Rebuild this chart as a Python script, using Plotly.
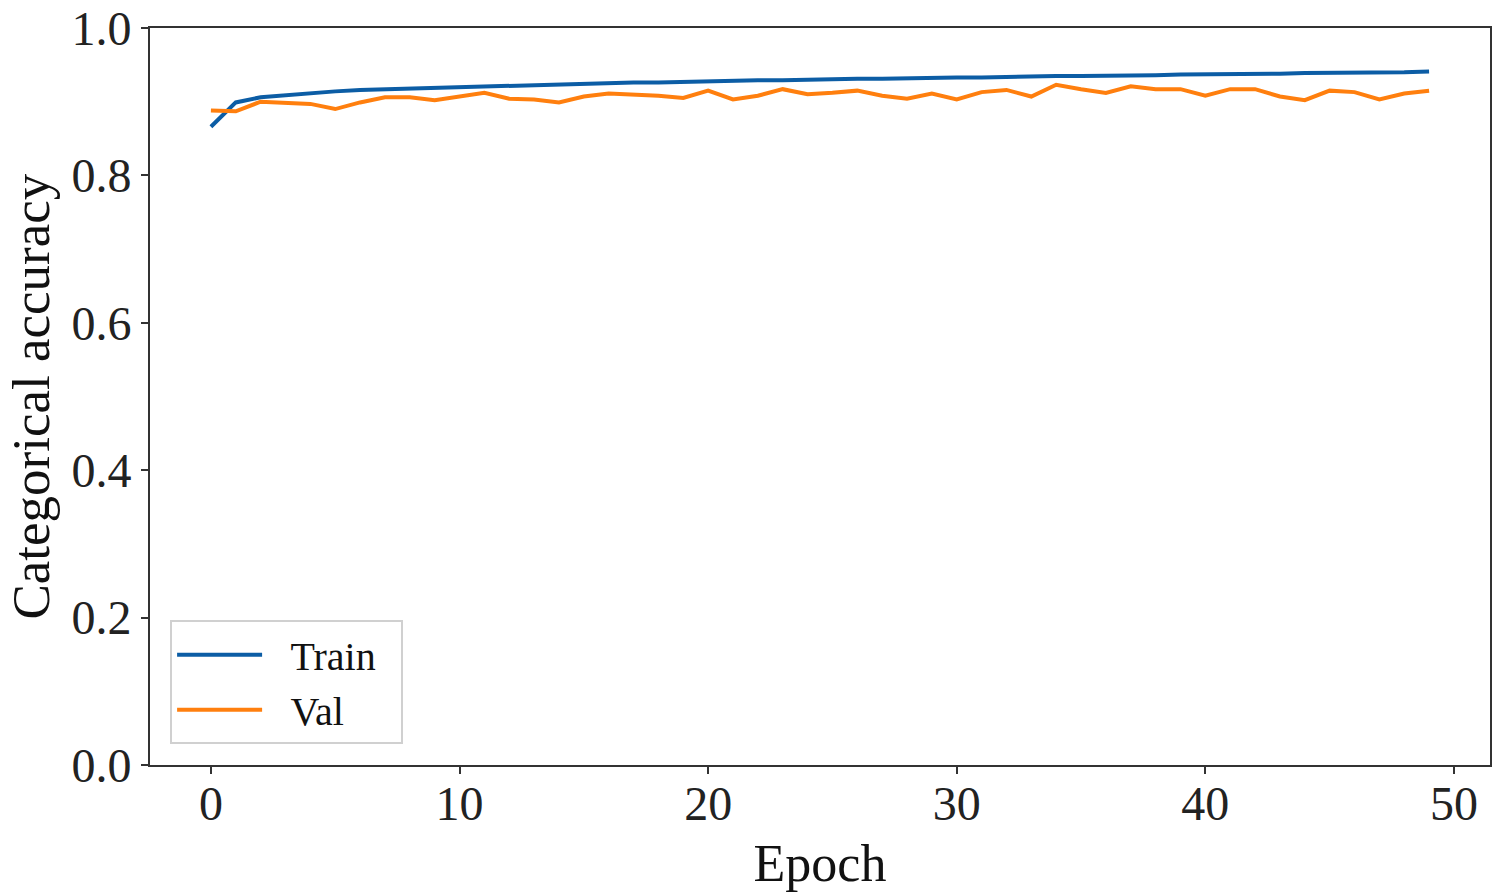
import plotly.graph_objects as go

# accuracy per epoch
epochs = list(range(50))
train_acc = [0.866, 0.899, 0.906, 0.909, 0.912, 0.914, 0.916, 0.917, 0.918, 0.919,
             0.920, 0.921, 0.922, 0.923, 0.924, 0.924, 0.925, 0.926, 0.926, 0.927,
             0.928, 0.928, 0.929, 0.929, 0.930, 0.930, 0.931, 0.931, 0.932, 0.932,
             0.933, 0.933, 0.934, 0.934, 0.935, 0.935, 0.935, 0.936, 0.936, 0.937,
             0.937, 0.937, 0.938, 0.938, 0.939, 0.939, 0.939, 0.940, 0.940, 0.941]
val_acc = [0.888, 0.887, 0.900, 0.899, 0.897, 0.890, 0.899, 0.906, 0.906, 0.902,
           0.907, 0.912, 0.904, 0.903, 0.899, 0.907, 0.911, 0.910, 0.908, 0.905,
           0.915, 0.903, 0.908, 0.917, 0.910, 0.912, 0.915, 0.908, 0.904, 0.911,
           0.903, 0.913, 0.916, 0.907, 0.923, 0.917, 0.912, 0.921, 0.917, 0.917,
           0.908, 0.917, 0.917, 0.907, 0.902, 0.915, 0.913, 0.903, 0.911, 0.915]
x_ticks = [0, 10, 20, 30, 40, 50]
y_ticks = [0.0, 0.2, 0.4, 0.6, 0.8, 1.0]

FONT = "Liberation Serif"
PAD = "\u2002\u200a"  # a little room between legend line and label

fig = go.Figure()
fig.add_trace(go.Scatter(x=epochs, y=train_acc, mode="lines", name=PAD + "Train\u2002",
                         line=dict(color="#0C5DA5", width=4)))
fig.add_trace(go.Scatter(x=epochs, y=val_acc, mode="lines", name=PAD + "Val",
                         line=dict(color="#FF7F0E", width=4)))

axis_common = dict(showgrid=False, zeroline=False, showline=True, linecolor="#333333",
                   linewidth=2, mirror=True, ticks="outside", ticklen=7, tickwidth=2,
                   tickcolor="#333333", automargin=False,
                   tickfont=dict(family=FONT, size=48, color="#222222"))

fig.update_xaxes(range=[-2.45, 51.45], tickvals=x_ticks, ticktext=[str(v) for v in x_ticks],
                 ticklabelstandoff=-12,
                 title=dict(text="Epoch", font=dict(family=FONT, size=52, color="#111111"),
                            standoff=16),
                 **axis_common)
fig.update_yaxes(range=[0, 1], tickvals=y_ticks, ticktext=["%.1f" % v for v in y_ticks],
                 **axis_common)

# y title as a rotated annotation so it can sit further left
fig.add_annotation(text="Categorical accuracy", xref="paper", yref="paper",
                   x=0, y=0.5, xanchor="center", yanchor="middle", xshift=-120,
                   textangle=-90, showarrow=False,
                   font=dict(family=FONT, size=53, color="#111111"))

fig.update_layout(
    width=1500, height=896,
    margin=dict(l=150, r=10, t=28, b=131),
    plot_bgcolor="white", paper_bgcolor="white",
    legend=dict(x=0.015, y=0.028, xanchor="left", yanchor="bottom",
                bgcolor="rgba(255,255,255,0.9)", bordercolor="#d0d0d0", borderwidth=2,
                font=dict(family=FONT, size=40, color="#111111"), itemwidth=85),
)

fig.write_html("out.html", config={"displayModeBar": False},
               post_script="document.body.style.margin='0';")
